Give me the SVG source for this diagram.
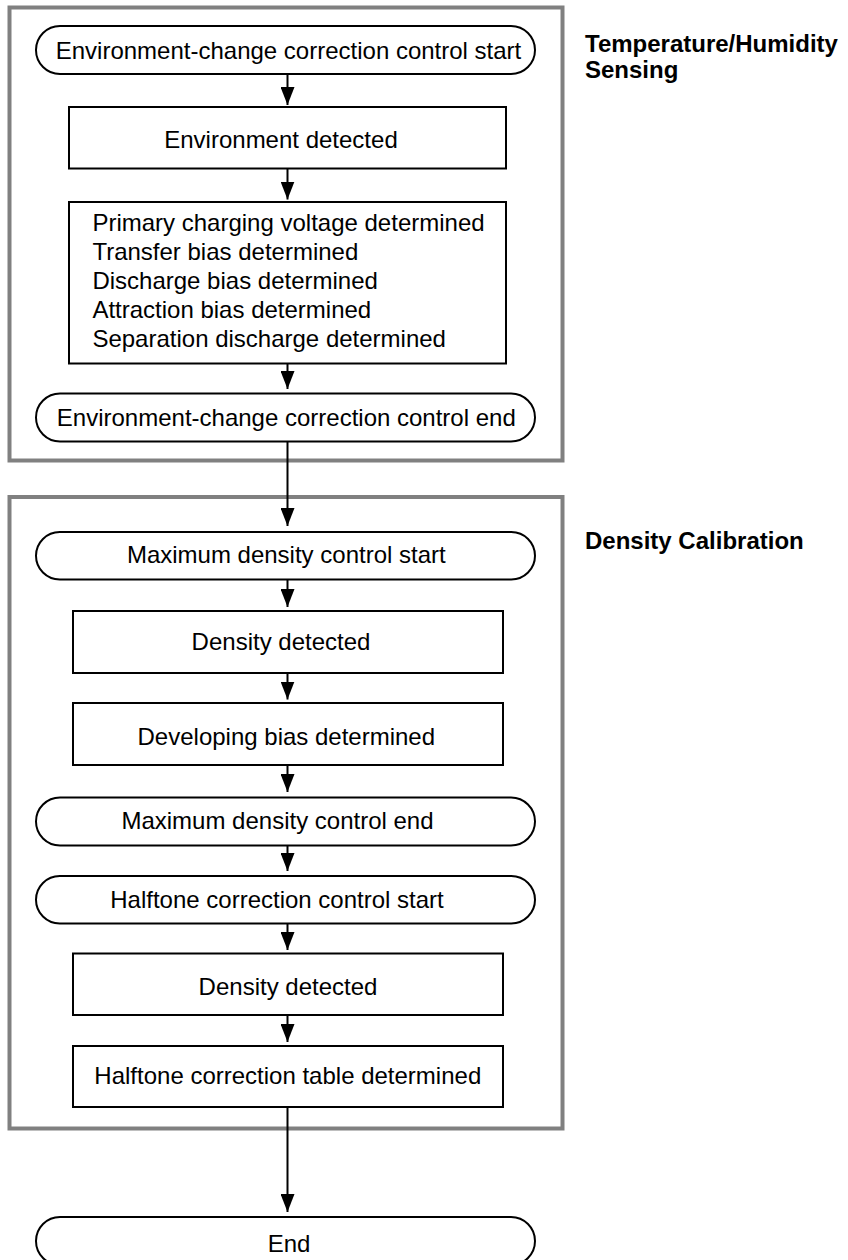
<svg xmlns="http://www.w3.org/2000/svg" width="848" height="1260" viewBox="0 0 848 1260">
<style>
.grp{fill:none;stroke:#808080;stroke-width:4}
.term,.box{fill:#fff;stroke:#000;stroke-width:2}
.t{font-family:"Liberation Sans",Arial,sans-serif;font-size:24px;fill:#000}
.c{text-anchor:middle}
.lbl{font-family:"Liberation Sans",Arial,sans-serif;font-size:24px;font-weight:bold;fill:#000}
.conn{stroke:#000;stroke-width:2;fill:none;marker-end:url(#ah)}
</style>
<defs>
<marker id="ah" markerUnits="userSpaceOnUse" markerWidth="18" markerHeight="14" refX="18" refY="7" orient="auto">
<path d="M0,0 L18,7 L0,14 z" fill="#000"/>
</marker>
</defs>
<rect width="848" height="1260" fill="#fff"/>
<g id="group-sensing">
<rect class="grp" x="9.5" y="7.5" width="553" height="453"/>
<text class="lbl" x="585" y="52.3">Temperature/Humidity</text>
<text class="lbl" x="585" y="78.3">Sensing</text>
</g>
<g id="group-density">
<rect class="grp" x="9.5" y="497" width="553" height="631.5"/>
<text class="lbl" x="585" y="549.3">Density Calibration</text>
</g>
<g id="connectors">
<line class="conn" x1="287.5" y1="74" x2="287.5" y2="105"/>
<line class="conn" x1="287.5" y1="168.5" x2="287.5" y2="199.5"/>
<line class="conn" x1="287.5" y1="363.5" x2="287.5" y2="389"/>
<line class="conn" x1="287.5" y1="441.5" x2="287.5" y2="526"/>
<line class="conn" x1="287.5" y1="579.5" x2="287.5" y2="607"/>
<line class="conn" x1="287.5" y1="673" x2="287.5" y2="699.5"/>
<line class="conn" x1="287.5" y1="765" x2="287.5" y2="792"/>
<line class="conn" x1="287.5" y1="845.5" x2="287.5" y2="871"/>
<line class="conn" x1="287.5" y1="923.5" x2="287.5" y2="950"/>
<line class="conn" x1="287.5" y1="1015" x2="287.5" y2="1042"/>
<line class="conn" x1="287.5" y1="1107" x2="287.5" y2="1212"/>
</g>
<g id="n1">
<rect class="term" x="36" y="26" width="499" height="48" rx="24" ry="24"/>
<text class="t c" x="288.5" y="58.6">Environment-change correction control start</text>
</g>
<g id="n2">
<rect class="box" x="69" y="107" width="437" height="61.5"/>
<text class="t c" x="281" y="147.5">Environment detected</text>
</g>
<g id="n3">
<rect class="box" x="69" y="202" width="437" height="161.5"/>
<text class="t" x="92.4" y="230.7">Primary charging voltage determined</text>
<text class="t" x="92.4" y="259.7">Transfer bias determined</text>
<text class="t" x="92.4" y="288.7">Discharge bias determined</text>
<text class="t" x="92.4" y="317.7">Attraction bias determined</text>
<text class="t" x="92.4" y="346.7">Separation discharge determined</text>
</g>
<g id="n4">
<rect class="term" x="36" y="393.5" width="499" height="48" rx="24" ry="24"/>
<text class="t c" x="286.3" y="426">Environment-change correction control end</text>
</g>
<g id="n5">
<rect class="term" x="36" y="532" width="499" height="47.5" rx="23.75" ry="23.75"/>
<text class="t c" x="286.3" y="563.3">Maximum density control start</text>
</g>
<g id="n6">
<rect class="box" x="73" y="611" width="430" height="62"/>
<text class="t c" x="281" y="650">Density detected</text>
</g>
<g id="n7">
<rect class="box" x="73" y="703" width="430" height="62"/>
<text class="t c" x="286.3" y="745">Developing bias determined</text>
</g>
<g id="n8">
<rect class="term" x="36" y="797.5" width="499" height="48" rx="24" ry="24"/>
<text class="t c" x="277.5" y="829.3">Maximum density control end</text>
</g>
<g id="n9">
<rect class="term" x="36" y="876" width="499" height="47.5" rx="23.75" ry="23.75"/>
<text class="t c" x="277" y="907.7">Halftone correction control start</text>
</g>
<g id="n10">
<rect class="box" x="73" y="953.5" width="430" height="61.5"/>
<text class="t c" x="288" y="995">Density detected</text>
</g>
<g id="n11">
<rect class="box" x="73" y="1046" width="430" height="61"/>
<text class="t c" x="287.8" y="1084.3">Halftone correction table determined</text>
</g>
<g id="n12">
<rect class="term" x="36" y="1217" width="499" height="48" rx="24" ry="24"/>
<text class="t c" x="289" y="1251.7">End</text>
</g>
</svg>
